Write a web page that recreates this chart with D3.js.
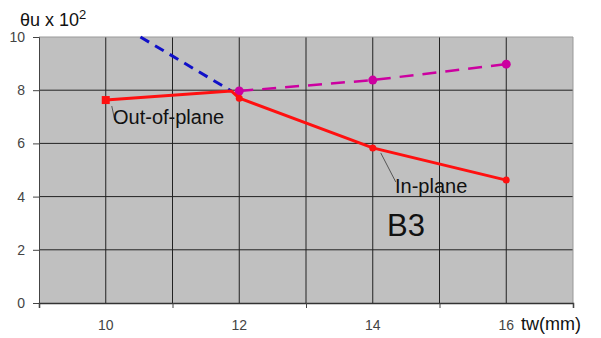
<!DOCTYPE html>
<html><head><meta charset="utf-8">
<script src="https://cdn.jsdelivr.net/npm/d3@7"></script>
<style>body{margin:0;background:#fff;}svg{display:block;font-family:Arial,"Liberation Sans",sans-serif;}</style>
</head><body>
<script>
// Data
const xTickLabels = [10, 12, 14, 16];
const yTicks = [0, 2, 4, 6, 8, 10];
const outOfPlaneX = [10, 11.88, 12];
const outOfPlaneY = [7.63, 7.97, 7.7];
const inPlaneX = [12, 14, 16];
const inPlaneY = [7.7, 5.83, 4.62];
const blueX = [10.52, 11.88];
const blueY = [10, 7.97];
const magentaX = [12, 14, 16];
const magentaY = [7.97, 8.38, 8.98];

const W = 601, H = 338;
const svg = d3.select("body").append("svg").attr("width", W).attr("height", H);
const x = d3.scaleLinear().domain([9, 17]).range([39, 573]);
const y = d3.scaleLinear().domain([0, 10]).range([303, 37]);

svg.append("rect").attr("x", x(9)).attr("y", y(10)).attr("width", x(17)-x(9)).attr("height", y(0)-y(10)).attr("fill", "#c0c0c0");

// grid
const g = svg.append("g");
g.selectAll(".vg").data(d3.range(10, 17)).join("line")
  .attr("x1", d => x(d)).attr("x2", d => x(d)).attr("y1", y(10)).attr("y2", y(0))
  .attr("stroke", "#222").attr("stroke-width", 1);
g.selectAll(".hg").data([2, 4, 6, 8]).join("line")
  .attr("x1", x(9)).attr("x2", x(17)).attr("y1", d => y(d)).attr("y2", d => y(d))
  .attr("stroke", "#222").attr("stroke-width", 1);
svg.append("line").attr("x1", x(9)).attr("x2", x(17)).attr("y1", y(10)).attr("y2", y(10)).attr("stroke", "#999");
svg.append("line").attr("x1", x(17)).attr("x2", x(17)).attr("y1", y(10)).attr("y2", y(0)).attr("stroke", "#999");

// axes
const yAxis = d3.axisLeft(y).tickValues(yTicks).tickSize(6).tickPadding(8).tickFormat(d3.format("d"));
const ya = svg.append("g").attr("transform", `translate(${x(9)},0)`).call(yAxis);
ya.select(".domain").attr("stroke", "#444");
ya.selectAll(".tick line").attr("stroke", "#444");
ya.selectAll("text").attr("font-size", 14).attr("fill", "#444").attr("font-family", "Arial, Liberation Sans, sans-serif");

const xAxis = d3.axisBottom(x).tickValues([9, 11, 13, 15, 17]).tickSize(5).tickFormat("");
const xa = svg.append("g").attr("transform", `translate(0,${y(0)})`).call(xAxis);
xa.select(".domain").attr("stroke", "#333").attr("stroke-width", 1.5);
xa.selectAll(".tick line").attr("stroke", "#444");
svg.selectAll(".xl").data(xTickLabels).join("text")
  .attr("x", d => x(d)).attr("y", 330).attr("text-anchor", "middle")
  .attr("font-size", 14).attr("fill", "#444").text(d => d);

const line = d3.line().x(d => x(d[0])).y(d => y(d[1]));
const zip = (a, b) => a.map((v, i) => [v, b[i]]);

// blue dashed
svg.append("path").attr("d", line(zip(blueX, blueY))).attr("fill", "none")
  .attr("stroke", "#1010c8").attr("stroke-width", 3).attr("stroke-dasharray", "10,7");
// magenta dashed
svg.append("path").attr("d", line(zip(magentaX, magentaY))).attr("fill", "none")
  .attr("stroke", "#cc00a0").attr("stroke-width", 2.5).attr("stroke-dasharray", "14,9");
svg.selectAll(".mm").data(zip(magentaX, magentaY)).join("circle")
  .attr("cx", d => x(d[0])).attr("cy", d => y(d[1])).attr("r", 4.5).attr("fill", "#cc00a0");
// red
svg.append("path").attr("d", line(zip(outOfPlaneX, outOfPlaneY))).attr("fill", "none")
  .attr("stroke", "#ff1010").attr("stroke-width", 3);
svg.append("path").attr("d", line(zip(inPlaneX, inPlaneY))).attr("fill", "none")
  .attr("stroke", "#ff1010").attr("stroke-width", 3);
svg.append("rect").attr("x", x(outOfPlaneX[0]) - 4).attr("y", y(outOfPlaneY[0]) - 4).attr("width", 8).attr("height", 8).attr("fill", "#ff1010");
svg.selectAll(".rm").data(zip(inPlaneX, inPlaneY)).join("circle")
  .attr("cx", d => x(d[0])).attr("cy", d => y(d[1])).attr("r", 3.5).attr("fill", "#ff1010");

// annotations
svg.append("line").attr("x1", x(10) + 6).attr("y1", y(7.63) + 6).attr("x2", x(10) + 9).attr("y2", y(7.63) + 20).attr("stroke", "#555");
svg.append("text").attr("x", 113).attr("y", 124).attr("font-size", 20).attr("fill", "#111").text("Out-of-plane");
svg.append("line").attr("x1", x(14) + 8).attr("y1", y(5.83) + 5).attr("x2", x(14) + 23).attr("y2", y(5.83) + 34).attr("stroke", "#555");
svg.append("text").attr("x", 395).attr("y", 193).attr("font-size", 20).attr("fill", "#111").text("In-plane");
svg.append("text").attr("x", 387).attr("y", 236).attr("font-size", 31).attr("fill", "#111").text("B3");
const t = svg.append("text").attr("x", 20).attr("y", 26).attr("font-size", 18).attr("fill", "#111");
t.append("tspan").text("θu x 10");
t.append("tspan").attr("font-size", 13).attr("dy", -7).text("2");
svg.append("text").attr("x", 521).attr("y", 330).attr("font-size", 18).attr("fill", "#111").text("tw(mm)");
</script>
</body></html>
